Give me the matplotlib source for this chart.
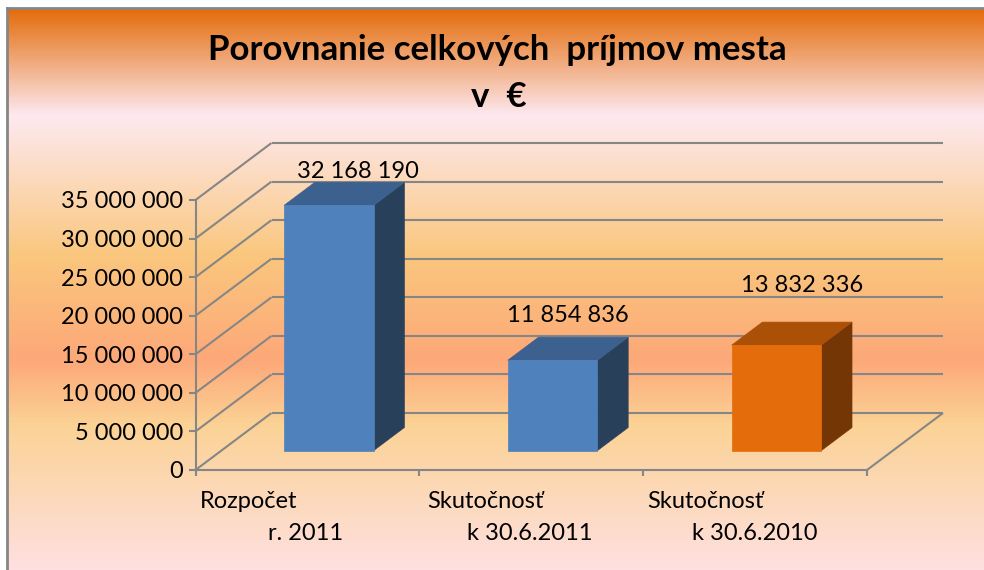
import matplotlib
matplotlib.use('Agg')
import matplotlib.pyplot as plt
import numpy as np
from matplotlib.colors import LinearSegmentedColormap
from matplotlib.patches import Polygon
from matplotlib.ticker import FuncFormatter
from matplotlib.transforms import IdentityTransform

plt.rcParams['font.family'] = ['Lato', 'DejaVu Sans']

# Data
title_lines = ['Porovnanie celkových  príjmov mesta', 'v  €']
cat_top = ['Rozpočet', 'Skutočnosť', 'Skutočnosť']
cat_bottom = ['r. 2011', 'k 30.6.2011', 'k 30.6.2010']
values = [32168190, 11854836, 13832336]
y_ticks = [0, 5000000, 10000000, 15000000, 20000000, 25000000, 30000000, 35000000]

# Bar colours: front, top, side
bar_colors = [('#4F81BD', '#3C618F', '#284059'),
              ('#4F81BD', '#3C618F', '#284059'),
              ('#E46C0A', '#AB5107', '#743605')]

W, H = 984, 570
grid_col = '#868686'


def spaced(v, pos=None):
    return f'{int(v):,}'.replace(',', ' ')


fig = plt.figure(figsize=(W / 100, H / 100), dpi=100, facecolor='white')

# Background gradient
stops = [(8, '#E46C0A'), (115, '#FDE9F0'), (255, '#FAC77E'), (360, '#FDA878'),
         (425, '#FBD295'), (570, '#FEE0E0')]
cmap = LinearSegmentedColormap.from_list(
    'bg', [((y - 8) / 562, c) for y, c in stops], N=512)
bg = fig.add_axes([7 / W, 0, (W - 7) / W, (H - 8) / H])
bg.imshow(np.linspace(0, 1, 562).reshape(-1, 1), cmap=cmap, aspect='auto')
bg.set_xticks([])
bg.set_yticks([])
for s in ['right', 'bottom']:
    bg.spines[s].set_visible(False)
for s in ['left', 'top']:
    bg.spines[s].set_color(grid_col)
    bg.spines[s].set_linewidth(2)

# Front plane of the 3D box
x0, x1, y0, y1 = 195.5, 867, 470, 200
ax = fig.add_axes([x0 / W, (H - y0) / H, (x1 - x0) / W, (y0 - y1) / H])
ax.patch.set_alpha(0)
ax.set_xlim(0, 3)
ax.set_ylim(0, 35000000)
for s in ['top', 'right']:
    ax.spines[s].set_visible(False)
for s in ['left', 'bottom']:
    ax.spines[s].set_color(grid_col)
    ax.spines[s].set_linewidth(1.5)
ax.set_yticks(y_ticks)
ax.yaxis.set_major_formatter(FuncFormatter(spaced))
ax.set_xticks([0, 1, 2, 3])
ax.set_xticklabels([])
ax.tick_params(axis='y', length=5, width=1.5, color=grid_col, labelsize=17, pad=4)
ax.tick_params(axis='x', length=4, width=1.5, color=grid_col)

depth_x, depth_y = 76, 57


def proj(x, y, d):
    # data point at depth d (0 front, 1 back wall) to display pixels
    px, py = ax.transData.transform((x, y))
    return px + depth_x * d, py + depth_y * d


def poly(pts, color, z=3):
    ax.add_patch(Polygon(pts, closed=True, facecolor=color, edgecolor=color, lw=0.5,
                         transform=IdentityTransform(), clip_on=False, zorder=z))


def line(a, b):
    ax.plot([a[0], b[0]], [a[1], b[1]], color=grid_col, lw=1.5,
            transform=IdentityTransform(), clip_on=False, zorder=1,
            solid_capstyle='butt')


# Side wall, back wall, floor
for v in y_ticks:
    line(proj(0, v, 0), proj(0, v, 1))
    line(proj(0, v, 1), proj(3, v, 1))
line(proj(3, 0, 0), proj(3, 0, 1))

# Bars
bar_w = 0.40
d0, d1 = 0.34, 0.745
bar_scale = 0.988
for i, v in enumerate(values):
    l = i + 0.48 - bar_w / 2
    r = l + bar_w
    t = v * bar_scale
    front, top, side = bar_colors[i]
    poly([proj(r, 0, d0), proj(r, 0, d1), proj(r, t, d1), proj(r, t, d0)], side)
    poly([proj(l, t, d0), proj(r, t, d0), proj(r, t, d1), proj(l, t, d1)], top)
    poly([proj(l, 0, d0), proj(r, 0, d0), proj(r, t, d0), proj(l, t, d0)], front, 4)


def px_text(x, y, s, **kw):
    fig.text(x / W, (H - y) / H, s, va='center', color='black', **kw)


# Data labels, moved by hand in the original
label_pos = [(358, 172), (568, 315), (802, 285)]
for (x, y), v in zip(label_pos, values):
    px_text(x, y, spaced(v), ha='center', fontsize=17)

# Category labels
for x, s in zip([200, 427, 647], cat_top):
    px_text(x, 501, s, ha='left', fontsize=17)
for x, s in zip([306, 530, 755], cat_bottom):
    px_text(x, 533, s, ha='center', fontsize=17)

# Title
px_text(497, 50, title_lines[0], ha='center', fontsize=25.1, fontweight='bold')
px_text(499, 97, title_lines[1], ha='center', fontsize=25.1, fontweight='bold')

fig.savefig('out.png', dpi=100)
